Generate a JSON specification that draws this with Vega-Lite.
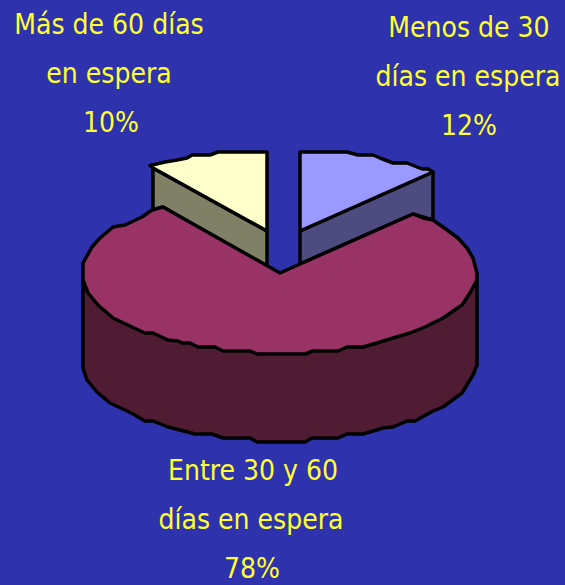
{"$schema":"https://vega.github.io/schema/vega-lite/v6.json","width":565,"height":585,"autosize":{"type":"none"},"padding":0,"background":"#2E32AD","config":{"view":{"stroke":null}},
"datasets":{"shapes":[
{"p":"wall","i":0,"x":83,"y":280},{"p":"wall","i":1,"x":83,"y":368},{"p":"wall","i":2,"x":87,"y":380},{"p":"wall","i":3,"x":97,"y":392},{"p":"wall","i":4,"x":110,"y":403},{"p":"wall","i":5,"x":125,"y":410},{"p":"wall","i":6,"x":133,"y":414},{"p":"wall","i":7,"x":145,"y":421},{"p":"wall","i":8,"x":153,"y":421},{"p":"wall","i":9,"x":168,"y":427},{"p":"wall","i":10,"x":180,"y":430},{"p":"wall","i":11,"x":195,"y":434},{"p":"wall","i":12,"x":212,"y":434},{"p":"wall","i":13,"x":223,"y":438},{"p":"wall","i":14,"x":250,"y":438},{"p":"wall","i":15,"x":257,"y":442},{"p":"wall","i":16,"x":305,"y":442},{"p":"wall","i":17,"x":312,"y":438},{"p":"wall","i":18,"x":338,"y":438},{"p":"wall","i":19,"x":347,"y":434},{"p":"wall","i":20,"x":363,"y":434},{"p":"wall","i":21,"x":383,"y":428},{"p":"wall","i":22,"x":393,"y":427},{"p":"wall","i":23,"x":407,"y":421},{"p":"wall","i":24,"x":415,"y":421},{"p":"wall","i":25,"x":433,"y":411},{"p":"wall","i":26,"x":443,"y":407},{"p":"wall","i":27,"x":462,"y":393},{"p":"wall","i":28,"x":473,"y":375},{"p":"wall","i":29,"x":477,"y":365},{"p":"wall","i":30,"x":477,"y":280},
{"p":"olive","i":0,"x":153,"y":168},{"p":"olive","i":1,"x":267,"y":231},{"p":"olive","i":2,"x":267,"y":268},{"p":"olive","i":3,"x":163,"y":207},{"p":"olive","i":4,"x":153,"y":210},
{"p":"yellow","i":0,"x":267,"y":152},{"p":"yellow","i":1,"x":218,"y":152},{"p":"yellow","i":2,"x":210,"y":155},{"p":"yellow","i":3,"x":192,"y":155},{"p":"yellow","i":4,"x":187,"y":158},{"p":"yellow","i":5,"x":177,"y":160},{"p":"yellow","i":6,"x":165,"y":162},{"p":"yellow","i":7,"x":150,"y":165.5},{"p":"yellow","i":8,"x":153,"y":168},{"p":"yellow","i":9,"x":267,"y":231},
{"p":"side","i":0,"x":433,"y":172},{"p":"side","i":1,"x":300,"y":231},{"p":"side","i":2,"x":300,"y":264},{"p":"side","i":3,"x":413,"y":214},{"p":"side","i":4,"x":433,"y":220},
{"p":"blue","i":0,"x":300,"y":152},{"p":"blue","i":1,"x":347,"y":152},{"p":"blue","i":2,"x":358,"y":155},{"p":"blue","i":3,"x":373,"y":155},{"p":"blue","i":4,"x":380,"y":158},{"p":"blue","i":5,"x":393,"y":163},{"p":"blue","i":6,"x":407,"y":163},{"p":"blue","i":7,"x":422,"y":169},{"p":"blue","i":8,"x":428,"y":169},{"p":"blue","i":9,"x":433,"y":172},{"p":"blue","i":10,"x":300,"y":231},
{"p":"top","i":0,"x":280,"y":273},{"p":"top","i":1,"x":300,"y":264},{"p":"top","i":2,"x":413,"y":214},{"p":"top","i":3,"x":423,"y":218},{"p":"top","i":4,"x":433,"y":220},{"p":"top","i":5,"x":443,"y":227},{"p":"top","i":6,"x":458,"y":238},{"p":"top","i":7,"x":467,"y":248},{"p":"top","i":8,"x":473,"y":258},{"p":"top","i":9,"x":477,"y":273},{"p":"top","i":10,"x":477,"y":280},{"p":"top","i":11,"x":470,"y":293},{"p":"top","i":12,"x":462,"y":305},{"p":"top","i":13,"x":443,"y":318},{"p":"top","i":14,"x":435,"y":322},{"p":"top","i":15,"x":425,"y":327},{"p":"top","i":16,"x":410,"y":333},{"p":"top","i":17,"x":393,"y":338},{"p":"top","i":18,"x":377,"y":343},{"p":"top","i":19,"x":363,"y":347},{"p":"top","i":20,"x":347,"y":347},{"p":"top","i":21,"x":338,"y":351},{"p":"top","i":22,"x":313,"y":351},{"p":"top","i":23,"x":305,"y":354},{"p":"top","i":24,"x":257,"y":354},{"p":"top","i":25,"x":250,"y":351},{"p":"top","i":26,"x":223,"y":351},{"p":"top","i":27,"x":215,"y":347},{"p":"top","i":28,"x":198,"y":347},{"p":"top","i":29,"x":190,"y":343},{"p":"top","i":30,"x":182,"y":343},{"p":"top","i":31,"x":178,"y":341},{"p":"top","i":32,"x":168,"y":340},{"p":"top","i":33,"x":153,"y":333},{"p":"top","i":34,"x":145,"y":333},{"p":"top","i":35,"x":132,"y":327},{"p":"top","i":36,"x":113,"y":318},{"p":"top","i":37,"x":98,"y":305},{"p":"top","i":38,"x":88,"y":293},{"p":"top","i":39,"x":83,"y":280},{"p":"top","i":40,"x":83,"y":263},{"p":"top","i":41,"x":92,"y":247},{"p":"top","i":42,"x":100,"y":238},{"p":"top","i":43,"x":113,"y":227},{"p":"top","i":44,"x":125,"y":225},{"p":"top","i":45,"x":142,"y":217},{"p":"top","i":46,"x":152,"y":210},{"p":"top","i":47,"x":163,"y":207}
],
"labels":[
{"t":"Más de 60 días","x":109,"y":26},{"t":"en espera","x":109,"y":75},{"t":"10%","x":111,"y":124},
{"t":"Menos de 30","x":469,"y":29},{"t":"días en espera","x":468,"y":78},{"t":"12%","x":469,"y":127},
{"t":"Entre 30 y 60","x":253,"y":472},{"t":"días en espera","x":251,"y":521},{"t":"78%","x":252,"y":570}
]},
"layer":[
{"data":{"name":"shapes"},"mark":{"type":"line","filled":true,"stroke":"#000000","strokeWidth":3.5,"strokeJoin":"round","interpolate":"linear-closed","opacity":1,"fillOpacity":1},
"encoding":{"x":{"field":"x","type":"quantitative","scale":{"domain":[0,565],"nice":false,"zero":false},"axis":null},"y":{"field":"y","type":"quantitative","scale":{"domain":[0,585],"reverse":true,"nice":false,"zero":false},"axis":null},"order":{"field":"i","type":"quantitative"},"detail":{"field":"p"},"fill":{"field":"p","type":"nominal","legend":null,"scale":{"domain":["wall","olive","yellow","side","blue","top"],"range":["#4F1C33","#808066","#FFFFCC","#4C4C80","#9999FF","#993366"]}}}},
{"data":{"name":"labels"},"mark":{"type":"text","font":"DejaVu Sans Condensed","fontSize":28,"color":"#FFFF33","align":"center","baseline":"middle"},
"encoding":{"x":{"field":"x","type":"quantitative","scale":{"domain":[0,565],"nice":false,"zero":false},"axis":null},"y":{"field":"y","type":"quantitative","scale":{"domain":[0,585],"reverse":true,"nice":false,"zero":false},"axis":null},"text":{"field":"t"}}}
]}
